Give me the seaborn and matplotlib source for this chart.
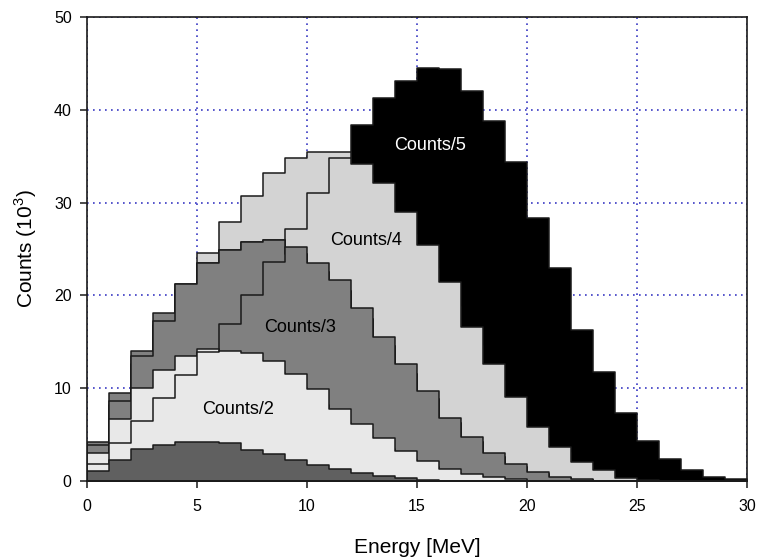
import numpy as np
import pandas as pd
import seaborn as sns
import matplotlib
matplotlib.use("Agg")
import matplotlib.pyplot as plt

# energy bins, 1 MeV wide
energy_edges = list(range(0, 31))
energy_centers = [e + 0.5 for e in energy_edges[:-1]]

# counts in units of 10^3, one value per bin
counts5 = [1.5, 4.0, 7.0, 10.0, 13.0, 16.0, 19.0, 22.0, 25.0, 28.0, 31.0, 34.0, 38.4, 41.3, 43.1,
           44.5, 44.4, 42.0, 38.8, 34.4, 28.3, 22.9, 16.3, 11.7, 7.3, 4.35, 2.33, 1.19, 0.47, 0.2]
counts4a = [3.6, 8.2, 12.6, 16.8, 20.6, 24.6, 27.9, 30.7, 33.2, 34.8, 35.5, 35.5, 33.0, 30.0, 26.5,
            22.8, 18.8, 14.5, 10.8, 7.6, 4.8, 3.0, 1.6, 0.8, 0.25, 0.05, 0, 0, 0, 0]
counts4b = [2.0, 4.5, 7.5, 11.0, 14.0, 17.0, 20.0, 22.5, 24.5, 27.2, 31.0, 34.8, 34.2, 32.1, 29.0,
            25.4, 21.4, 16.6, 12.6, 9.1, 5.8, 3.7, 2.1, 1.2, 0.36, 0.1, 0, 0, 0, 0]
counts3a = [4.23, 9.52, 14.04, 18.07, 21.2, 23.5, 24.9, 25.8, 26.0, 24.5, 22.5, 20.5, 17.5, 14.5, 11.5,
            8.8, 6.2, 4.2, 2.6, 1.5, 0.8, 0.35, 0.1, 0, 0, 0, 0, 0, 0, 0]
counts3c = [3.88, 8.65, 13.47, 17.2, 21.2, 23.5, 24.9, 25.8, 26.0, 24.5, 22.5, 20.5, 17.5, 14.5, 11.5,
            8.8, 6.2, 4.2, 2.6, 1.5, 0.8, 0.35, 0.1, 0, 0, 0, 0, 0, 0, 0]
counts3b = [1.5, 3.5, 6.0, 8.5, 11.0, 13.5, 16.9, 20.0, 23.6, 25.2, 23.5, 21.7, 18.6, 15.5, 12.6,
            9.7, 6.8, 4.7, 3.0, 1.8, 1.0, 0.47, 0.2, 0, 0, 0, 0, 0, 0, 0]
counts2a = [3.05, 6.65, 10.0, 12.0, 13.5, 14.2, 13.5, 12.8, 11.6, 10.0, 8.2, 6.3, 4.7, 3.4, 2.3,
            1.5, 0.85, 0.5, 0.3, 0.1, 0, 0, 0, 0, 0, 0, 0, 0, 0, 0]
counts2b = [1.8, 4.13, 6.5, 8.9, 11.4, 13.9, 14.0, 13.8, 12.9, 11.5, 9.9, 7.8, 6.1, 4.6, 3.2,
            2.2, 1.26, 0.75, 0.46, 0.2, 0, 0, 0, 0, 0, 0, 0, 0, 0, 0]
counts1 = [1.1, 2.3, 3.45, 3.9, 4.2, 4.24, 4.1, 3.34, 2.9, 2.26, 1.72, 1.3, 0.9, 0.5, 0.3,
           0.1, 0, 0, 0, 0, 0, 0, 0, 0, 0, 0, 0, 0, 0, 0]

# back to front
layers = [
    (counts5, "#000000"),
    (counts4a, "#d3d3d3"),
    (counts4b, "#d3d3d3"),
    (counts3a, "#808080"),
    (counts3c, "#808080"),
    (counts3b, "#808080"),
    (counts2a, "#e8e8e8"),
    (counts2b, "#e8e8e8"),
    (counts1, "#606060"),
]

labels = ["Counts/5", "Counts/4", "Counts/3", "Counts/2"]
label_x = [15.6, 12.7, 9.7, 6.85]
label_y = [36.1, 25.9, 16.5, 7.7]
label_colors = ["white", "black", "black", "black"]

sns.set_style("ticks")
plt.rcParams["font.family"] = ["Liberation Sans", "DejaVu Sans"]
plt.rcParams["mathtext.fontset"] = "custom"
plt.rcParams["mathtext.rm"] = "Liberation Sans"
plt.rcParams["text.color"] = "black"
plt.rcParams["axes.labelcolor"] = "black"

fig = plt.figure(figsize=(7.59, 5.58), dpi=100)
ax = fig.add_axes([87 / 759, 1 - 481 / 558, 660 / 759, 464 / 558])

for vals, col in layers:
    df = pd.DataFrame({"energy": energy_centers, "counts": vals})
    sns.histplot(data=df, x="energy", weights="counts", bins=energy_edges,
                 element="step", fill=True, color=col, alpha=1,
                 edgecolor="#1a1a1a", linewidth=1.1, ax=ax)

for t, x, y, c in zip(labels, label_x, label_y, label_colors):
    ax.text(x, y, t, color=c, fontsize=13, ha="center", va="center")

ax.set_xlim(0, 30)
ax.set_ylim(0, 50)
ax.set_xticks(range(0, 31, 5))
ax.set_yticks(range(0, 51, 10))
ax.set_axisbelow(True)
ax.grid(True, color="#3a3ac4", linestyle=(0, (1, 2.6)), linewidth=1.2)

for s in ax.spines.values():
    s.set_visible(True)
    s.set_color("#1a1a1a")
    s.set_linewidth(1.2)
ax.tick_params(direction="out", length=5, width=1.1, labelsize=11.5, colors="#1a1a1a")
ax.tick_params(axis="x", pad=8)
ax.tick_params(axis="y", pad=6)
ax.tick_params(labelcolor="black")

ax.set_xlabel("Energy [MeV]", fontsize=15, labelpad=17)
ax.set_ylabel("Counts (10$^3$)", fontsize=15, labelpad=11)

fig.savefig("out.png", dpi=100)
